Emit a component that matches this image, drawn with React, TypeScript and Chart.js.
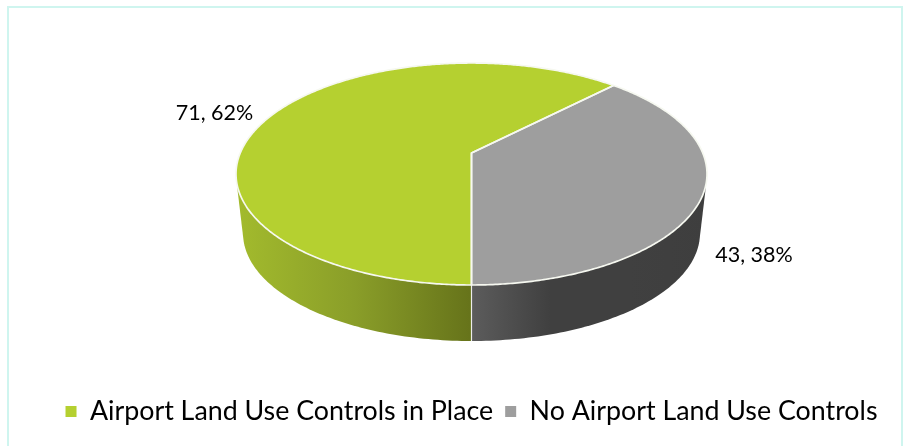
import React, { useEffect, useRef } from "react";
import { Chart, registerables } from "chart.js";

Chart.register(...registerables);

const categories = ["Airport Land Use Controls in Place", "No Airport Land Use Controls"];
const values = [71, 43];
const percents = [62, 38];
const topColors = ["#B5D030", "#9E9E9E"];
const wallStops = [
  ["#A3BB2D", "#8A9E29", "#66731A"],
  ["#5C5C5C", "#404040", "#404040", "#3E3E3E"],
];
const labelAnchors = [[214.5, 113], [754, 255]];

const CX = 471.5;
const APEX_Y = 153;
const DOWN = 132;
const UP = 90;
const RX = 235.5;
const LOWER_SCALE = 0.97;
const LOWER_APEX_Y = 213;
const WALL_TOP_Y = 186;

const K = (DOWN - UP) / (DOWN + UP);
const B = DOWN * (1 - K);
const A = RX * Math.sqrt(1 - K * K);

function project(angle: number, lower: boolean) {
  const u = Math.cos(angle);
  const v = Math.sin(angle);
  const w = 1 - K * v;
  const s = lower ? LOWER_SCALE : 1;
  return {
    x: CX + (s * A * u) / w,
    y: (lower ? LOWER_APEX_Y : APEX_Y) + (s * B * v) / w,
  };
}

function convexHull(points: { x: number; y: number }[]) {
  const pts = [...points].sort((a, b) => a.x - b.x || a.y - b.y);
  const cross = (o: any, a: any, b: any) =>
    (a.x - o.x) * (b.y - o.y) - (a.y - o.y) * (b.x - o.x);
  const build = (list: typeof pts) => {
    const out: typeof pts = [];
    for (const p of list) {
      while (out.length >= 2 && cross(out[out.length - 2], out[out.length - 1], p) <= 0) out.pop();
      out.push(p);
    }
    out.pop();
    return out;
  };
  return [...build(pts), ...build([...pts].reverse())];
}

function slicePath(ctx: CanvasRenderingContext2D, start: number, end: number) {
  const step = Math.PI / 360;
  ctx.beginPath();
  ctx.moveTo(CX, APEX_Y);
  for (let t = start; t < end; t += step) {
    const q = project(t, false);
    ctx.lineTo(q.x, q.y);
  }
  const e = project(end, false);
  ctx.lineTo(e.x, e.y);
  ctx.closePath();
}

const pie3d = {
  id: "pie3d",
  beforeDatasetDraw(chart: any) {
    const ctx = chart.ctx as CanvasRenderingContext2D;
    const arcs = chart.getDatasetMeta(0).data as any[];
    ctx.save();

    // side wall: hull of the upper and lower discs, split at the front seam
    const rim: { x: number; y: number }[] = [];
    for (let d = 0; d < 360; d++) {
      const t = (d * Math.PI) / 180;
      rim.push(project(t, false), project(t, true));
    }
    const hull = convexHull(rim);
    const seamTop = project(Math.PI / 2, false);
    const seamBottom = project(Math.PI / 2, true);
    arcs.forEach((_, i) => {
      const [x0, x1] = i === 0 ? [CX - RX, seamTop.x] : [seamTop.x, CX + RX];
      const grad = ctx.createLinearGradient(x0, 0, x1, 0);
      wallStops[i].forEach((c, j) => grad.addColorStop(j / (wallStops[i].length - 1), c));
      ctx.save();
      ctx.beginPath();
      ctx.rect(x0, WALL_TOP_Y, x1 - x0, 200);
      ctx.clip();
      ctx.beginPath();
      hull.forEach((p, j) => (j ? ctx.lineTo(p.x, p.y) : ctx.moveTo(p.x, p.y)));
      ctx.closePath();
      ctx.fillStyle = grad;
      ctx.fill();
      ctx.restore();
    });

    ctx.strokeStyle = "rgba(255,255,255,0.85)";
    ctx.lineWidth = 1.2;
    ctx.beginPath();
    ctx.moveTo(seamTop.x, seamTop.y);
    ctx.lineTo(seamBottom.x, seamBottom.y);
    ctx.stroke();

    // top faces
    arcs.forEach((arc, i) => {
      const p = arc.getProps(["startAngle", "endAngle"], true);
      slicePath(ctx, p.startAngle, p.endAngle);
      ctx.fillStyle = topColors[i];
      ctx.fill();
    });
    arcs.forEach((arc) => {
      const p = arc.getProps(["startAngle", "endAngle"], true);
      slicePath(ctx, p.startAngle, p.endAngle);
      ctx.strokeStyle = "#F6F8F0";
      ctx.lineWidth = 1.7;
      ctx.lineJoin = "round";
      ctx.stroke();
    });

    // value labels
    ctx.fillStyle = "#000000";
    ctx.font = "21.5px Lato";
    ctx.textAlign = "center";
    ctx.textBaseline = "middle";
    values.forEach((v, i) => {
      ctx.fillText(`${v}, ${percents[i]}%`, labelAnchors[i][0], labelAnchors[i][1]);
    });
    ctx.restore();
    return false;
  },
};

export default function App() {
  const ref = useRef<HTMLCanvasElement>(null);
  useEffect(() => {
    const chart = new Chart(ref.current!, {
      type: "pie",
      data: {
        labels: categories,
        datasets: [{ data: values, backgroundColor: topColors, borderWidth: 0 }],
      },
      plugins: [pie3d],
      options: {
        responsive: false,
        animation: false,
        rotation: 180,
        layout: { padding: { left: 33, bottom: 11, top: 0, right: 0 } },
        plugins: {
          tooltip: { enabled: false },
          legend: {
            position: "bottom",
            labels: {
              font: { family: "Lato", size: 26.8 },
              color: "#000000",
              boxWidth: 11,
              boxHeight: 11,
              padding: 12,
            },
          },
        },
      },
    } as any);
    return () => chart.destroy();
  }, []);
  return (
    <div style={{ position: "absolute", left: 0, top: 0, width: 910, height: 446, background: "#fff", overflow: "hidden" }}>
      <div
        style={{
          position: "absolute",
          left: 7,
          top: 6,
          width: 896,
          height: 460,
          border: "2px solid #CFF5EF",
          boxSizing: "border-box",
        }}
      />
      <canvas ref={ref} width={910} height={446} style={{ position: "absolute", left: 0, top: 0, display: "block" }} />
    </div>
  );
}
